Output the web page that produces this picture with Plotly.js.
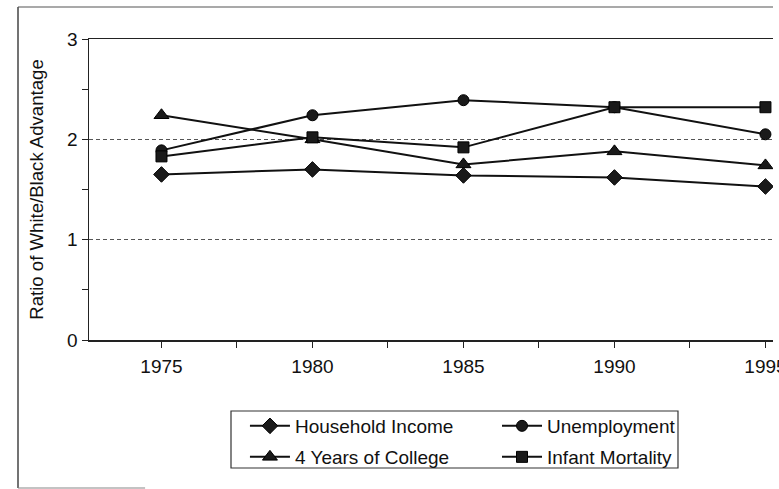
<!DOCTYPE html>
<html>
<head>
<meta charset="utf-8">
<script src="https://cdn.plot.ly/plotly-3.0.1.min.js"></script>
<style>html,body{margin:0;padding:0;background:#fff;}#chart{width:779px;height:489px;}</style>
</head>
<body>
<div id="chart"></div>
<script>
// Data
const years = [1975, 1980, 1985, 1990, 1995];
const householdIncome = [1.65, 1.70, 1.64, 1.62, 1.53];
const unemployment = [1.89, 2.24, 2.39, 2.32, 2.05];
const college = [2.24, 2.00, 1.75, 1.88, 1.74];
const infantMortality = [1.83, 2.02, 1.92, 2.32, 2.32];
const seriesNames = ["Household Income", "Unemployment", "4 Years of College", "Infant Mortality"];
const yTickVals = [0, 1, 2, 3];
const yTickText = ["0", "1", "2", "3"];
const xTickVals = [1975, 1980, 1985, 1990, 1995];
const xTickText = ["1975", "1980", "1985", "1990", "1995"];

const FONT = "Liberation Sans, Arial, Helvetica, sans-serif";
const lineStyle = {color: "#111", width: 2};

function mk(y, name, symbol, size, legend) {
  return {
    x: years, y: y, name: name, type: "scatter", mode: "lines+markers",
    line: lineStyle,
    marker: {symbol: symbol, size: size, color: "#1a1a1a", line: {color: "#000", width: 1}},
    legend: legend
  };
}

const data = [
  mk(householdIncome, seriesNames[0], "diamond", 12, "legend"),
  mk(unemployment, seriesNames[1], "circle", 11, "legend2"),
  mk(college, seriesNames[2], "triangle-up", 13, "legend3"),
  mk(infantMortality, seriesNames[3], "square", 11, "legend4")
];

function leg(x, y) {
  return {
    orientation: "h", xanchor: "left", yanchor: "middle", x: x, y: y,
    font: {family: FONT, size: 19, color: "#111"},
    bgcolor: "rgba(0,0,0,0)", borderwidth: 0,
    itemwidth: 40, traceorder: "normal", itemclick: false
  };
}
const col1 = 0.2280, col2 = 0.5965, row1 = -0.2857, row2 = -0.3887;

const layout = {
  width: 779, height: 489,
  margin: {l: 89, r: 6, t: 39, b: 149, pad: 0, autoexpand: false},
  paper_bgcolor: "#fff", plot_bgcolor: "#fff",
  font: {family: FONT, size: 19, color: "#111"},
  showlegend: true,
  legend: leg(col1, row1),
  legend2: leg(col2, row1),
  legend3: leg(col1, row2),
  legend4: leg(col2, row2),
  xaxis: {
    range: [1972.6, 1995.25], automargin: false,
    tickmode: "array", tickvals: xTickVals, ticktext: xTickText,
    ticks: "outside", ticklen: 6, tickwidth: 1, tickcolor: "#222",
    minor: {dtick: 2.5, tick0: 1975, ticks: "outside", ticklen: 6, tickwidth: 1, tickcolor: "#222", showgrid: false},
    showline: true, linecolor: "#222", linewidth: 1.5, mirror: true,
    showgrid: false, zeroline: false, ticklabelstandoff: 3,
    ticklabeloverflow: "allow",
    tickfont: {family: FONT, size: 19, color: "#111"}
  },
  yaxis: {
    range: [0, 3], automargin: false,
    tickmode: "array", tickvals: yTickVals, ticktext: yTickText,
    ticks: "outside", ticklen: 6, tickwidth: 1, tickcolor: "#222",
    minor: {dtick: 0.5, tick0: 0, ticks: "outside", ticklen: 6, tickwidth: 1, tickcolor: "#222", showgrid: false},
    showline: true, linecolor: "#222", linewidth: 1.5, mirror: false,
    showgrid: true, gridcolor: "#555", gridwidth: 1, griddash: "4px,3px",
    zeroline: false,
    tickfont: {family: FONT, size: 19, color: "#111"},
    title: {text: "Ratio of White/Black Advantage", font: {family: FONT, size: 18.6, color: "#111"}, standoff: 18}
  },
  shapes: [
    // legend box
    {type: "rect", xref: "paper", yref: "paper", x0: 0.2076, x1: 0.8611, y0: -0.2359, y1: -0.4252,
     line: {color: "#333", width: 1.2}, fillcolor: "rgba(0,0,0,0)", layer: "below"},
    // outer frame: left, top, partial bottom
    {type: "line", xref: "paper", yref: "paper", x0: -0.1038, x1: -0.1038, y0: 1.1063, y1: -0.4917,
     line: {color: "#444", width: 1.5}},
    {type: "line", xref: "paper", yref: "paper", x0: -0.1038, x1: 1.0, y0: 1.1063, y1: 1.1063,
     line: {color: "#555", width: 1.2}},
    {type: "line", xref: "paper", yref: "paper", x0: -0.1038, x1: 0.082, y0: -0.4917, y1: -0.4917,
     line: {color: "#888", width: 1.2}}
  ]
};

Plotly.newPlot("chart", data, layout, {displayModeBar: false, staticPlot: true});
</script>
</body>
</html>
